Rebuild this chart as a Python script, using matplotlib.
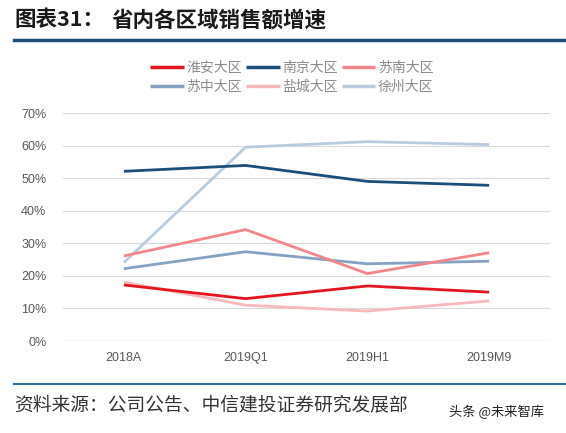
import matplotlib
matplotlib.use("Agg")
import matplotlib.pyplot as plt
from matplotlib.lines import Line2D

plt.rcParams['font.family'] = ['Noto Sans CJK SC', 'DejaVu Sans']

categories = ["2018A", "2019Q1", "2019H1", "2019M9"]
huaian = [17.2, 13.0, 16.9, 15.0]
nanjing = [52.1, 53.9, 49.0, 47.8]
sunan = [26.1, 34.2, 20.7, 27.1]
suzhong = [22.2, 27.4, 23.7, 24.5]
yancheng = [18.1, 11.0, 9.2, 12.3]
xuzhou = [24.1, 59.5, 61.2, 60.3]
yticks = [0, 10, 20, 30, 40, 50, 60, 70]

series = [
    ("徐州大区", xuzhou, "#B9CCDF"),
    ("盐城大区", yancheng, "#F8B9BC"),
    ("苏中大区", suzhong, "#86A2C2"),
    ("苏南大区", sunan, "#F2878B"),
    ("南京大区", nanjing, "#1B4F7A"),
    ("淮安大区", huaian, "#E5151F"),
]

fig = plt.figure(figsize=(5.66, 4.33), dpi=100)
ax = fig.add_axes([63/566, 1-341/433, (550-63)/566, (341-113)/433])

x = list(range(len(categories)))
handles = {}
for name, vals, col in series:
    ln, = ax.plot(x, vals, color=col, lw=2.0, solid_capstyle='butt', zorder=3)
    handles[name] = ln

ax.set_xlim(-0.5, 3.5)
ax.set_ylim(0, 70)
ax.set_yticks(yticks)
ax.set_yticklabels([f"{v}%" for v in yticks], fontfamily='Liberation Sans', fontsize=9, color='#595959')
ax.set_xticks(x)
ax.set_xticklabels(categories, fontfamily='Liberation Sans', fontsize=9, color='#595959')
ax.tick_params(length=0)
ax.tick_params(axis='x', pad=8)
ax.tick_params(axis='y', pad=12)
ax.grid(axis='y', color='#D9D9D9', lw=0.8)
ax.set_axisbelow(True)
for s in ax.spines.values():
    s.set_visible(False)
ax.axhline(0, color='#D9D9D9', lw=1.0, zorder=1)

order = ["淮安大区", "苏中大区", "南京大区", "盐城大区", "苏南大区", "徐州大区"]
leg = fig.legend([handles[n] for n in order], order, ncol=3, loc='center',
                 bbox_to_anchor=(292/566, 1-77/433), frameon=False,
                 fontsize=10, handlelength=2.4, handletextpad=0.2,
                 columnspacing=0.3, labelspacing=0.35, labelcolor='#8C8C8C')
for lh in leg.get_lines():
    lh.set_linewidth(2.5)

# title
fig.text(14/566, 1-20/433, "图表31：", fontsize=15.5, fontweight='bold', color='#1a1a1a', va='center', ha='left')
fig.text(112/566, 1-20/433, "省内各区域销售额增速", fontsize=15.5, fontweight='bold', color='#1a1a1a', va='center', ha='left')
fig.add_artist(Line2D([14/566, 1.0], [1-40/433, 1-40/433], color='#1F4E79', lw=2.5))

# footer
fig.add_artist(Line2D([14/566, 1.0], [1-384/433, 1-384/433], color='#2E6DA4', lw=1.5))
fig.text(14/566, 1-405/433, "资料来源：公司公告、中信建投证券研究发展部", fontsize=13.5, color='#333333',
         va='center', ha='left', style='italic')
fig.text(449/566, 1-412/433, "头条 @未来智库", fontsize=9.5, color='#222222', va='center', ha='left')

fig.savefig("out.png", dpi=100, facecolor='white')
